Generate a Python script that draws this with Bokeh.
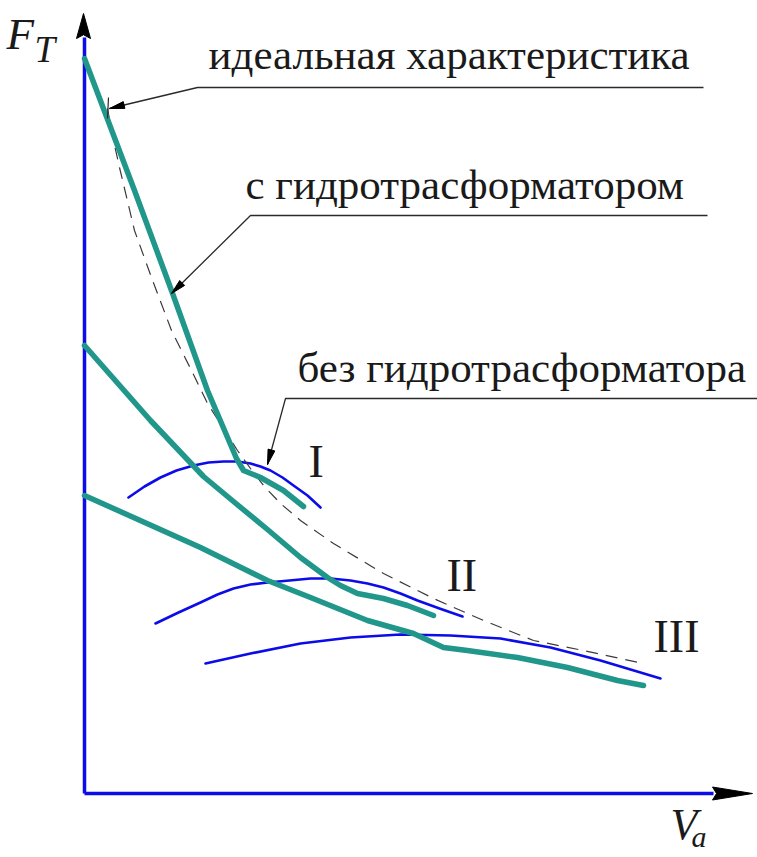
import numpy as np
from bokeh.plotting import figure
from bokeh.models import Range1d
from bokeh.core.properties import value
from bokeh.embed import file_html
from bokeh.resources import INLINE

# ---- data (chart units: V to the right of origin, F above origin) ----
# traction force with torque converter, gears I, II, III (teal)
conv_I_v = [0, 50, 87, 123, 152, 159, 176, 199, 219]
conv_I_f = [735, 603, 503, 403, 335, 323, 316, 303, 287]
conv_II_v = [0, 66, 119, 149, 183, 216, 243, 256, 273, 299, 323, 349]
conv_II_f = [448, 373, 317, 292, 264, 236, 216, 208, 200, 195, 188, 178]
conv_III_v = [0, 116, 183, 226, 283, 329, 359, 383, 433, 483, 533, 559]
conv_III_f = [298, 246, 213, 196, 173, 160, 146, 143, 136, 126, 113, 108]

# without torque converter, gears I, II, III (blue)
mech_I_v = [44, 60, 76, 92, 109, 124, 139, 153, 166, 176, 186, 198, 209, 223, 236]
mech_I_f = [296, 307, 316, 323, 328, 331, 332, 332, 330, 327, 323, 316, 308, 298, 286]
mech_II_v = [71, 94, 116, 133, 149, 166, 183, 205, 226, 246, 266, 283, 299, 316, 333, 355, 378]
mech_II_f = [170, 181, 191, 199, 205, 209, 211, 213, 215, 215, 213, 210, 206, 200, 193, 185, 177]
mech_III_v = [121, 166, 216, 266, 316, 366, 416, 466, 516, 546, 576]
mech_III_f = [130, 140, 150, 156, 159, 158, 155, 146, 133, 124, 115]

# ideal characteristic (dashed)
ideal_v = [23, 29, 35, 50, 67, 87, 107, 123, 153, 166, 179, 196, 216, 249, 299, 349, 399, 449, 499, 559]
ideal_f = [685, 653, 626, 563, 516, 463, 423, 390, 343, 325, 308, 290, 273, 250, 220, 195, 173, 153, 143, 130]

# callout texts and leaders
callout_texts = ["идеальная характеристика", "с гидротрасформатором", "без гидротрасформатора"]
callout_text_v = [124, 161, 213]
callout_text_f = [739, 609, 426]
callout_tip = [(25, 685), (87, 500), (183, 329)]
callout_elbow = [(113, 706), (166, 578), (201, 395)]
callout_end = [(619, 706), (623, 578), (673, 395)]

gear_labels = ["I", "II", "III"]
gear_label_v = [224, 362, 569]
gear_label_f = [332, 218, 157]

# axes
axis_v_max = 629
axis_f_max = 756

TEAL = "#21978b"
BLUE = "#0c0ce8"
INK = "#1a1a1a"
SERIF = value("'Liberation Serif', 'Times New Roman', 'DejaVu Serif', serif")

p = figure(width=757, height=857, output_backend="svg", toolbar_location=None,
           x_range=Range1d(-84, 673), y_range=Range1d(-64, 793),
           min_border=0, x_axis_type=None, y_axis_type=None)
p.grid.visible = False
p.outline_line_color = None
p.background_fill_color = "white"
p.border_fill_color = "white"

# axes lines
p.line([0, 0], [0, axis_f_max], line_color=BLUE, line_width=3.5)
p.line([0, axis_v_max], [0, 0], line_color=BLUE, line_width=3.5)

def arrow_head(tip, direction, length, half_w, notch=0.0):
    t = np.array(tip, float)
    d = np.array(direction, float)
    d = d / np.linalg.norm(d)
    n = np.array([-d[1], d[0]])
    base = t - d * length
    pts = [t, base + n * half_w, t - d * length * (1 - notch), base - n * half_w]
    return [q[0] for q in pts], [q[1] for q in pts]

hx, hy = arrow_head((-1, 780), (0, 1), 25, 7, notch=0.15)
p.patch(hx, hy, fill_color="black", line_color="black", line_width=1)
hx, hy = arrow_head((668, 0), (1, 0), 40, 6.5, notch=0.1)
p.patch(hx, hy, fill_color="black", line_color="black", line_width=1)

# blue curves (without converter)
for vv, ff in [(mech_I_v, mech_I_f), (mech_II_v, mech_II_f), (mech_III_v, mech_III_f)]:
    p.line(vv, ff, line_color=BLUE, line_width=2.6, line_join="round", line_cap="round")

# ideal dashed curve
p.line(ideal_v, ideal_f, line_color="#3a3a3a", line_width=1.2, line_dash="12 8")

# teal curves (with converter)
for vv, ff in [(conv_I_v, conv_I_f), (conv_II_v, conv_II_f), (conv_III_v, conv_III_f)]:
    p.line(vv, ff, line_color=TEAL, line_width=5.5, line_join="round", line_cap="round")

# callouts
for i in range(3):
    tip, elb, end = callout_tip[i], callout_elbow[i], callout_end[i]
    p.line([tip[0], elb[0], end[0]], [tip[1], elb[1], end[1]], line_color="#2a2a2a", line_width=1.3)
    hx, hy = arrow_head(tip, (tip[0] - elb[0], tip[1] - elb[1]), 15, 3.5)
    p.patch(hx, hy, fill_color="black", line_color="black", line_width=1)
    p.text([callout_text_v[i]], [callout_text_f[i]], text=[callout_texts[i]],
           text_font=SERIF, text_font_size="43px",
           text_color=INK, text_baseline="alphabetic", text_align="left")
# small tick at tip of ideal callout
p.line([23, 24], [675, 696], line_color="#2a2a2a", line_width=1.2)

p.text(gear_label_v, gear_label_f, text=gear_labels,
       text_font=SERIF, text_font_size="46px",
       text_color=INK, text_baseline="alphabetic", text_align="left")

# axis labels
p.text([-78], [760], text=["F"], text_font=SERIF, text_font_style="italic",
       text_font_size="45px", text_color=INK, text_baseline="alphabetic")
p.text([-50], [744], text=["T"], text_font=SERIF, text_font_style="italic",
       text_font_size="37px", text_color=INK, text_baseline="alphabetic")
p.text([586], [-31], text=["V"], text_font=SERIF, text_font_style="italic",
       text_font_size="44px", text_color=INK, text_baseline="alphabetic")
p.text([607], [-43], text=["a"], text_font=SERIF, text_font_style="italic",
       text_font_size="30px", text_color=INK, text_baseline="alphabetic")

open("out.html", "w").write(file_html(p, INLINE))
